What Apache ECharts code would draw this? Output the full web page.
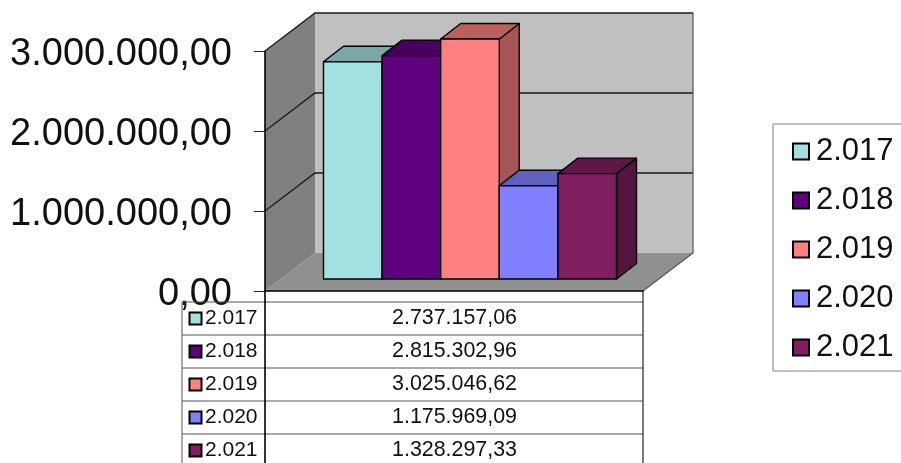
<!DOCTYPE html>
<html><head><meta charset="utf-8">
<style>html,body{margin:0;padding:0;background:#fff}#c{width:901px;height:463px}</style>
<script src="https://cdn.jsdelivr.net/npm/echarts@6/dist/echarts.min.js"></script>
</head><body><div id="c"></div>
<script>
const years = ['2.017','2.018','2.019','2.020','2.021'];
const values = [2737157.06,2815302.96,3025046.62,1175969.09,1328297.33];
const faceColors = ['#A3E0E0','#5F007F','#FF8080','#8080FF','#7F1F5F'];
const topColors = ['#7AA8A8','#47005F','#BF6060','#6060BF','#5F1747'];
const sideColors = ['#6C9595','#3F0054','#A85555','#5555A8','#541440'];
const yTicks = [0,1000000,2000000,3000000];

const WALL = {x:50,y:-38};
const INSET = {x:16,y:-12};
const DEPTH = {x:20,y:-15.5};
const BAR_PERSPECTIVE = 0.992;
const fmt = v => {
  const p = v.toFixed(2).split('.');
  return p[0].replace(/\B(?=(\d{3})+$)/g,'.') + ',' + p[1];
};
const stroke = {stroke:'#000',lineWidth:1.4,lineJoin:'round'};
const FONT = '"Liberation Sans",Arial,sans-serif';

function frameItem(params, api){
  const p0 = api.coord([0,0]);
  const w = api.size([1,0])[0];
  const L = p0[0]-w/2, R = p0[0]+w/2, B = p0[1];
  const T = api.coord([0,3000000])[1];
  const dx = WALL.x, dy = WALL.y;
  const kids = [
    {type:'rect',shape:{x:L+dx,y:T+dy,width:w,height:B-T},style:{fill:'#C0C0C0'}},
    {type:'polygon',shape:{points:[[L,T],[L+dx,T+dy],[L+dx,B+dy],[L,B]]},style:{fill:'#808080'}},
    {type:'polygon',shape:{points:[[L,B],[L+dx,B+dy],[R+dx,B+dy],[R,B]]},style:{fill:'#909090'}}
  ];
  yTicks.forEach(v=>{
    const y = api.coord([0,v])[1];
    if(v>0){
      kids.push({type:'polyline',shape:{points:[[L,y],[L+dx,y+dy],[R+dx,y+dy]]},style:{fill:'none',stroke:'#1a1a1a',lineWidth:1.3}});
    }
  });
  kids.push({type:'polyline',shape:{points:[[R,B],[R+dx,B+dy],[R+dx,T+dy]]},style:{fill:'none',stroke:'#555',lineWidth:1.2}});
  return {type:'group',children:kids};
}
function barItem(i){
  return function(params, api){
    const p0 = api.coord([0,0]);
    const w = api.size([1,0])[0];
    const bw = w/6.45;
    const L = p0[0]-w/2 + INSET.x + (w-5*bw)/2 + i*bw;
    const R = L+bw;
    const B = p0[1]+INSET.y;
    const T = B-(p0[1]-api.coord([0,api.value(1)])[1])*BAR_PERSPECTIVE;
    const dx = DEPTH.x, dy = DEPTH.y;
    return {type:'group',children:[
      {type:'polygon',shape:{points:[[R,B],[R+dx,B+dy],[R+dx,T+dy],[R,T]]},style:Object.assign({fill:sideColors[i]},stroke)},
      {type:'polygon',shape:{points:[[L,T],[L+dx,T+dy],[R+dx,T+dy],[R,T]]},style:Object.assign({fill:topColors[i]},stroke)},
      {type:'rect',shape:{x:L,y:T,width:bw,height:B-T},style:Object.assign({fill:faceColors[i]},stroke)}
    ]};
  };
}

// data table under the plot
const TX0=182, TX1=265, TX2=643, TY0=302, RH=33;
const table = [];
const line = (x1,y1,x2,y2,c,lw)=>table.push({type:'line',shape:{x1,y1,x2,y2},style:{stroke:c,lineWidth:lw},z:6});
years.forEach((y,i)=>{
  const top = TY0+i*RH, cy = top+RH/2;
  line(TX0,top,TX2,top,'#555',1);
  table.push({type:'rect',shape:{x:189.5,y:cy-6,width:12,height:12},style:{fill:faceColors[i],stroke:'#000',lineWidth:2},z:6});
  table.push({type:'text',style:{x:205,y:cy,text:y,font:'21px '+FONT,fill:'#111',textVerticalAlign:'middle',textAlign:'left'},z:6});
  table.push({type:'text',style:{x:454.5,y:cy,text:fmt(values[i]),font:'21.4px '+FONT,fill:'#111',textVerticalAlign:'middle',textAlign:'center'},z:6});
});
line(TX0,TY0,TX0,463,'#555',1);
line(TX1,291,TX1,463,'#000',1.6);
line(TX2,291,TX2,463,'#222',1.2);

const chart = echarts.init(document.getElementById('c'),null,{renderer:'canvas'});
chart.setOption({
  animation:false,
  backgroundColor:'#fff',
  grid:{left:265,top:51,width:378,height:240,containLabel:false},
  xAxis:{type:'category',data:[''],z:5,axisTick:{show:false},axisLabel:{show:false},
    axisLine:{show:true,lineStyle:{color:'#000',width:1.6}},splitLine:{show:false}},
  yAxis:{type:'value',min:0,max:3000000,interval:1000000,z:5,
    axisLine:{show:true,lineStyle:{color:'#000',width:1.6}},
    axisTick:{show:true,length:11,lineStyle:{color:'#222',width:1}},
    splitLine:{show:false},
    axisLabel:{margin:33,fontSize:38,fontFamily:FONT,color:'#111',verticalAlign:'top',lineHeight:8,formatter:v=>fmt(v)}},
  legend:{show:true,orient:'vertical',left:773,top:124,
    padding:[10,8,6,19],itemGap:14,itemWidth:16,itemHeight:16,icon:'rect',
    borderColor:'#808080',borderWidth:1,selectedMode:false,
    textStyle:{fontSize:31,fontFamily:FONT,color:'#111',padding:[0,0,0,2],lineHeight:35},
    data:years.map((n,i)=>({name:n,itemStyle:{color:faceColors[i],borderColor:'#000',borderWidth:2}}))},
  graphic:table,
  series:[
    {type:'custom',name:'frame',z:1,clip:false,silent:true,renderItem:frameItem,data:[[0,0]],encode:{x:0,y:1}},
    ...years.map((n,i)=>({type:'custom',name:n,z:2+i*0.01,clip:false,silent:true,
      itemStyle:{color:faceColors[i]},renderItem:barItem(i),data:[[0,values[i]]],encode:{x:0,y:1}}))
  ]
});
</script></body></html>
